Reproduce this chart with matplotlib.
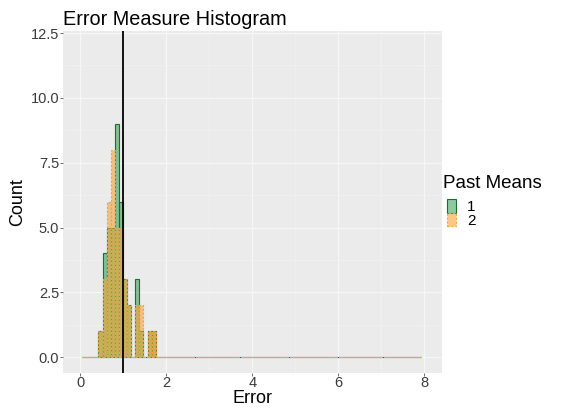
import numpy as np
import matplotlib
matplotlib.use("Agg")
import matplotlib.pyplot as plt
from matplotlib.patches import Patch

plt.rcParams['font.family'] = ['Liberation Sans', 'DejaVu Sans']

# histogram bins (same grid for both groups)
bin_start = 0.045
bin_width = 0.095
n_bins = 83

# non-zero counts, starting at bin index 4
first_bin = 4
counts_1 = [1, 4, 5, 5, 9, 6, 3, 2, 0, 3, 1, 0, 1, 1]
counts_2 = [1, 3, 6, 8, 5, 5, 3, 2, 0, 2, 2, 0, 1, 1]

threshold = 1.0
groups = ["1", "2"]

x_ticks = [0, 2, 4, 6, 8]
y_ticks = [0.0, 2.5, 5.0, 7.5, 10.0, 12.5]


def full_counts(c):
    out = np.zeros(n_bins)
    out[first_bin:first_bin + len(c)] = c
    return out


lefts = bin_start + bin_width * np.arange(n_bins)
h1 = full_counts(counts_1)
h2 = full_counts(counts_2)

bg = "#EBEBEB"
fig = plt.figure(figsize=(5.61, 4.12), dpi=100)
ax = fig.add_axes([0.1123, 0.0954, 0.6747, 0.8294])
ax.set_facecolor(bg)

green_fill = (0.10, 0.59, 0.25, 0.5)
green_edge = "#1f6b32"
orange_fill = (0.98, 0.64, 0.22, 0.6)
orange_edge = "#f0a640"

ax.bar(lefts, h1, width=bin_width, align="edge", color=green_fill,
       edgecolor=green_edge, linewidth=0.8, zorder=2)
ax.bar(lefts, h2, width=bin_width, align="edge", color=orange_fill,
       edgecolor=orange_edge, linewidth=0.8, linestyle=(0, (2, 1.5)), zorder=3)

ax.axvline(threshold, color="black", linewidth=1.3, zorder=4)

ax.set_xlim(-0.4, 8.4)
ax.set_ylim(-0.6, 12.58)
ax.set_xticks(x_ticks)
ax.set_xticklabels([str(t) for t in x_ticks])
ax.set_yticks(y_ticks)
ax.set_yticklabels([f"{t:.1f}" for t in y_ticks])
ax.set_xticks([1, 3, 5, 7], minor=True)
ax.set_yticks([1.25, 3.75, 6.25, 8.75, 11.25], minor=True)
ax.grid(which="major", color="#F6F6F6", linewidth=0.9, zorder=0)
ax.grid(which="minor", color="#F2F2F2", linewidth=0.5, zorder=0)
ax.set_axisbelow(True)
for s in ax.spines.values():
    s.set_visible(False)
ax.tick_params(which="major", length=2.2, color="#555555", width=0.6,
               labelsize=10.5, labelcolor="#3a3a3a", pad=0.5)
ax.tick_params(which="minor", length=0)

ax.set_xlabel("Error", fontsize=13, labelpad=0)
ax.set_ylabel("Count", fontsize=13, labelpad=3)
ax.set_title("Error Measure Histogram", fontsize=14.3, loc="left", pad=4)

# legend: title placed separately to leave a gap above the keys
fig.text(0.789, 1 - 183 / 412, "Past Means", fontsize=13.5, va="center", ha="left")
handles = [
    Patch(facecolor=green_fill, edgecolor=green_edge, linewidth=0.8),
    Patch(facecolor=orange_fill, edgecolor=orange_edge, linewidth=0.8, linestyle=(0, (2, 1.5))),
]
leg = fig.legend(handles, groups, loc="upper left",
                 bbox_to_anchor=(0.797, 1 - 199 / 412), frameon=False, fontsize=11,
                 handlelength=0.6, handleheight=1.0,
                 handletextpad=0.7, labelspacing=-0.1, borderaxespad=0,
                 borderpad=0)

fig.savefig("out.png", dpi=100)
